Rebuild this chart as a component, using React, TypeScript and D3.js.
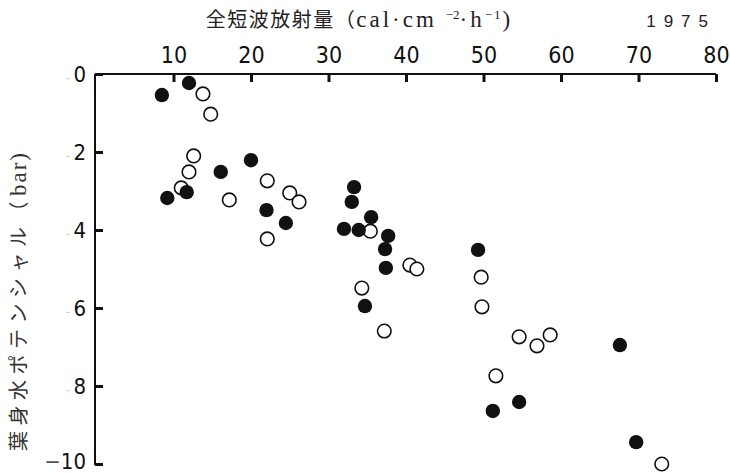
import React, { useEffect, useRef } from "react";
import { select, scaleLinear, axisTop, axisLeft } from "d3";

// 全短波放射量 (x) vs 葉身水ポテンシャル (y, bar)
const filledX = [8.5, 12.0, 9.2, 11.7, 16.1, 20.0, 22.0, 24.5, 33.3, 33.0, 32.0, 33.9, 35.5, 37.7, 37.3, 37.4, 34.7, 49.3, 51.2, 54.6, 67.6, 69.7];
const filledY = [-0.54, -0.23, -3.18, -3.03, -2.51, -2.21, -3.49, -3.82, -2.9, -3.28, -3.97, -4.0, -3.67, -4.15, -4.49, -4.97, -5.95, -4.51, -8.64, -8.41, -6.95, -9.44];

const openX = [13.8, 14.8, 12.6, 12.0, 11.0, 17.2, 22.1, 25.0, 26.2, 22.1, 35.4, 34.3, 37.2, 40.5, 41.4, 49.7, 49.8, 54.6, 56.9, 58.6, 51.6, 73.0];
const openY = [-0.51, -1.03, -2.1, -2.51, -2.92, -3.23, -2.74, -3.05, -3.28, -4.23, -4.03, -5.49, -6.59, -4.9, -5.0, -5.21, -5.97, -6.74, -6.97, -6.69, -7.74, -10.0];

const xTicks = [10, 20, 30, 40, 50, 60, 70, 80];
const yTicks = [0, -2, -4, -6, -8, -10];

const WIDTH = 730;
const HEIGHT = 473;
const digitFont = '"Liberation Sans Narrow", "DejaVu Sans Condensed", "Liberation Sans", sans-serif';
const serifFont = '"Liberation Serif", "DejaVu Serif", serif';
const cjkFont = '"Noto Sans CJK JP", sans-serif';

export default function App() {
  const svgRef = useRef<SVGSVGElement>(null);

  useEffect(() => {
    const svg = select(svgRef.current);
    svg.selectAll("*").remove();

    const x = scaleLinear().domain([0, 80]).range([96, 716]);
    const y = scaleLinear().domain([0, -10]).range([74, 464]);

    // top axis, ticks pointing down into the plot
    const gx = svg
      .append("g")
      .attr("transform", `translate(0,${y(0)})`)
      .call(axisTop(x).tickValues(xTicks).tickSize(-8).tickSizeOuter(0).tickPadding(11));
    gx.select(".domain").attr("stroke", "#111").attr("stroke-width", 2).attr("d", `M${x(0) - 1},0H${x(80)}`);
    gx.selectAll(".tick line").attr("stroke", "#111").attr("stroke-width", 3);
    gx.selectAll(".tick text")
      .attr("fill", "#111")
      .style("font-family", digitFont)
      .style("font-size", "23px");

    // left axis, ticks pointing right
    const gy = svg
      .append("g")
      .attr("transform", `translate(${x(0) - 1},0)`)
      .call(axisLeft(y).tickValues(yTicks).tickSize(-8).tickSizeOuter(0).tickPadding(9));
    gy.select(".domain").attr("stroke", "#111").attr("stroke-width", 2).attr("d", `M0,${y(0)}V${y(-10) + 1}`);
    gy.selectAll(".tick line").attr("stroke", "#111").attr("stroke-width", 3);
    gy.selectAll<SVGTextElement, number>(".tick text")
      .text(null)
      .style("font-family", digitFont)
      .style("font-size", "22px")
      .attr("fill", "#111")
      .each(function (d) {
        const t = select(this);
        if (d === -10) {
          t.attr("dy", "0.2em");
          t.append("tspan").attr("fill", "#555").text("−");
          t.append("tspan").text("10");
        } else {
          t.append("tspan").attr("fill", "#ccc").style("font-size", "12px").text("- ");
          t.append("tspan").text(String(Math.abs(d)));
        }
      });

    // points
    const open = openX.map((v, i) => [v, openY[i]]);
    const filled = filledX.map((v, i) => [v, filledY[i]]);

    svg
      .append("g")
      .selectAll("circle")
      .data(open)
      .join("circle")
      .attr("cx", (d) => x(d[0]))
      .attr("cy", (d) => y(d[1]))
      .attr("r", 6.8)
      .attr("fill", "#fff")
      .attr("stroke", "#111")
      .attr("stroke-width", 1.6);

    svg
      .append("g")
      .selectAll("circle")
      .data(filled)
      .join("circle")
      .attr("cx", (d) => x(d[0]))
      .attr("cy", (d) => y(d[1]))
      .attr("r", 7.2)
      .attr("fill", "#111");

    // title
    const title = svg
      .append("text")
      .attr("x", 358)
      .attr("y", 27)
      .attr("text-anchor", "middle")
      .attr("fill", "#222")
      .style("font-family", serifFont);
    title.append("tspan").style("font-family", cjkFont).style("font-size", "20px").attr("letter-spacing", 1.5).text("全短波放射量（");
    title.append("tspan").style("font-size", "23px").attr("letter-spacing", 3).text("cal·cm ");
    title.append("tspan").attr("dy", -8).style("font-size", "13px").text("−2");
    title.append("tspan").attr("dy", 8).style("font-size", "23px").attr("letter-spacing", 3).text("·h");
    title.append("tspan").attr("dy", -8).style("font-size", "13px").attr("letter-spacing", 2).text("−1");
    title.append("tspan").attr("dy", 8).style("font-size", "23px").text(")");

    svg
      .append("text")
      .attr("x", 716)
      .attr("y", 27)
      .attr("text-anchor", "end")
      .attr("letter-spacing", 8)
      .attr("fill", "#222")
      .style("font-family", '"Liberation Sans", sans-serif')
      .style("font-size", "17px")
      .text("1975");

    // y axis label
    const yl = svg
      .append("text")
      .attr("transform", "translate(26,302) rotate(-90)")
      .attr("text-anchor", "middle")
      .attr("fill", "#333");
    yl.append("tspan").style("font-family", cjkFont).style("font-size", "20px").attr("letter-spacing", 5.5).text("葉身水ポテンシャル（");
    yl.append("tspan").style("font-family", serifFont).style("font-size", "23px").attr("letter-spacing", 2).text("bar");
    yl.append("tspan").style("font-family", serifFont).style("font-size", "23px").text(")");
  }, []);

  return (
    <svg
      ref={svgRef}
      width={WIDTH}
      height={HEIGHT}
      style={{ position: "absolute", left: 0, top: 0, background: "#fff" }}
    />
  );
}
